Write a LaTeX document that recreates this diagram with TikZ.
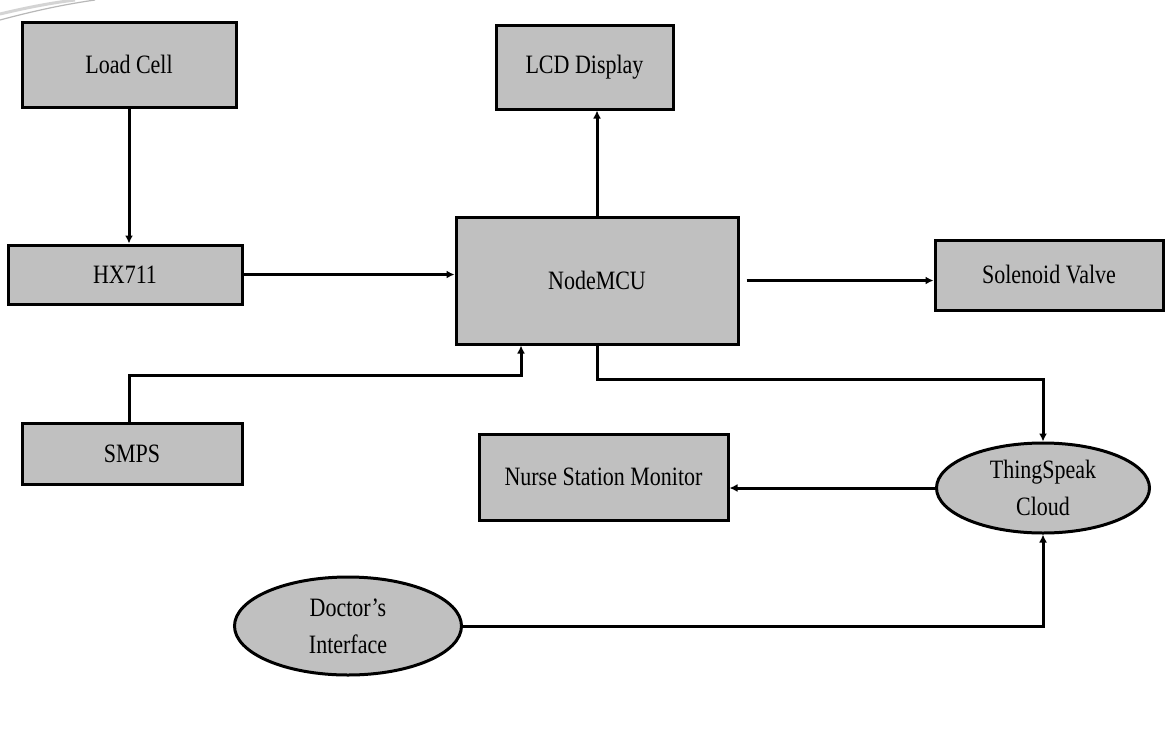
\documentclass[tikz,border=0pt]{standalone}
\usepackage{fontspec}
\setmainfont{Liberation Serif}[FakeStretch=0.83]
\usetikzlibrary{arrows.meta,shapes.geometric}
\definecolor{boxgray}{HTML}{C0C0C0}
\definecolor{swoosh}{HTML}{B8B8B8}
\begin{document}
\begin{tikzpicture}[x=1pt,y=-1pt,
  box/.style={draw=black, fill=boxgray, line width=3pt, inner sep=0pt,
    font=\fontsize{26.5}{28}\selectfont},
  ell/.style={ellipse, draw=black, fill=boxgray, line width=3pt, inner sep=0pt,
    align=center, font=\fontsize{26.5}{37}\selectfont},
  arr/.style={line width=3pt, -{Latex[length=8pt,width=8pt]}}
]
\useasboundingbox (0,0) rectangle (1170,753);
\fill[white] (0,0) rectangle (1170,753);
% decorative swoosh top-left
\draw[swoosh, line width=1.2pt] (0,20) .. controls (30,12) and (60,5) .. (95,0);
\draw[swoosh!60, line width=3pt] (0,14) .. controls (25,8) and (50,3) .. (75,0);

\node[box, minimum width=214pt, minimum height=85pt] (load) at (129,64.5) {Load Cell};
\node[box, minimum width=177pt, minimum height=84pt] (lcd) at (584.5,67) {LCD Display};
\node[box, minimum width=234pt, minimum height=59pt] (hx) at (125,274.5) {HX711};
\node[box, minimum width=282pt, minimum height=127pt] (mcu) at (597,280.5) {NodeMCU};
\node[box, minimum width=228pt, minimum height=70pt] (sol) at (1049,275) {Solenoid Valve};
\node[box, minimum width=220pt, minimum height=61pt] (smps) at (132,453.5) {SMPS};
\node[box, minimum width=249pt, minimum height=86pt] (nurse) at (603.5,477) {Nurse Station Monitor};
\node[ell, minimum width=213pt, minimum height=90pt] (ts) at (1043,488) {ThingSpeak\\Cloud};
\node[ell, minimum width=227pt, minimum height=98pt] (doc) at (348,626) {Doctor’s\\Interface};

\draw[arr] (load.south) -- (load.south |- hx.north);
\draw[arr] (hx.east) -- (hx.east -| mcu.west);
\draw[arr] (mcu.north) -- (mcu.north |- lcd.south);
\draw[arr] ([xshift=7pt]mcu.east) -- (mcu.east -| sol.west);
\draw[arr] (smps.north -| load.south) -- ++(0,-46) -| ([xshift=-76pt]mcu.south);
\draw[arr] (mcu.south) -- ++(0,34) -| (ts.north);
\draw[arr] (ts.west) -- (ts.west -| nurse.east);
\draw[arr] (doc.east) -| (ts.south);
\end{tikzpicture}
\end{document}
